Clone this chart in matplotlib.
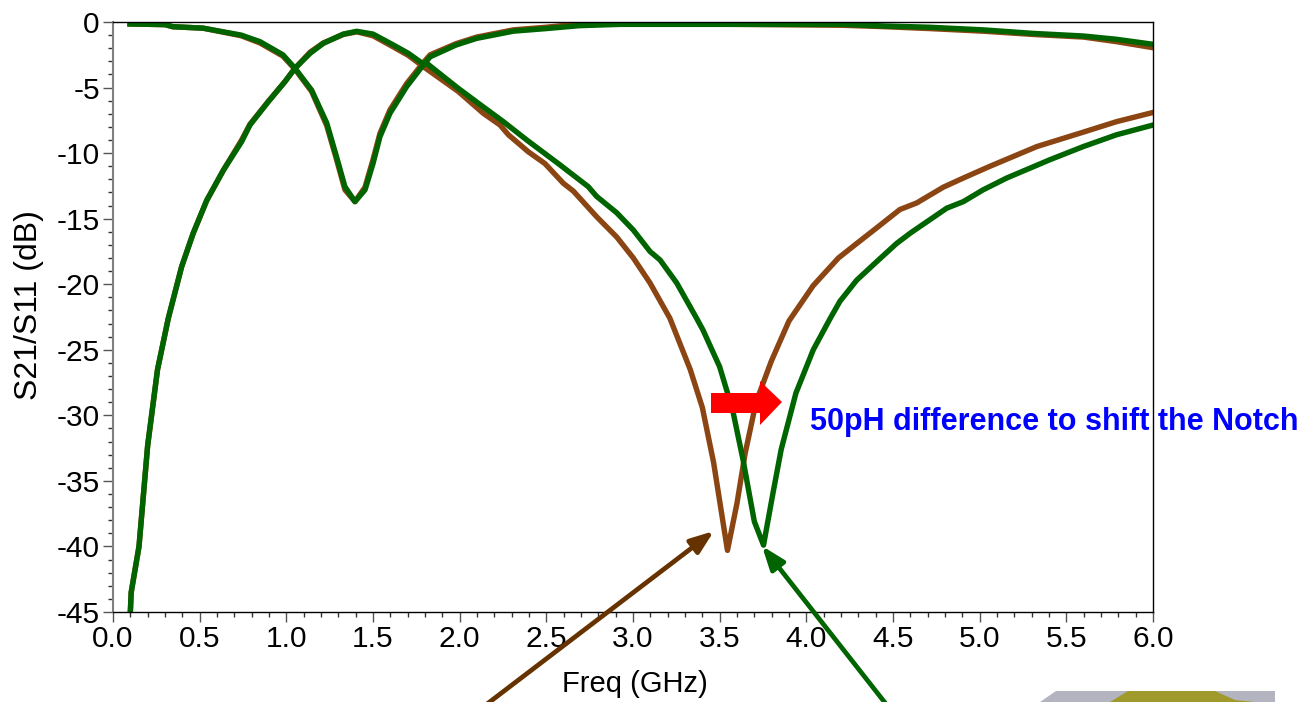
import matplotlib
matplotlib.use('Agg')
import matplotlib.pyplot as plt
from matplotlib.patches import Polygon
from matplotlib.ticker import MultipleLocator

plt.rcParams['font.family'] = ['Liberation Sans', 'DejaVu Sans']
plt.rcParams['axes.unicode_minus'] = False

#S11 with notch at 3.75 GHz (green)
freq_g = [0.1, 0.105, 0.15, 0.2, 0.257, 0.319, 0.396, 0.463, 0.541, 0.637, 0.742, 0.79, 0.896, 0.992,
          1.05, 1.137, 1.213, 1.329, 1.406, 1.5, 1.617, 1.704, 1.79, 1.81, 1.992, 2.108, 2.252, 2.387,
          2.579, 2.742, 2.79, 2.906, 3.002, 3.098, 3.156, 3.252, 3.367, 3.404, 3.5, 3.575, 3.635,
          3.7, 3.753, 3.808, 3.855, 3.94, 4.04, 4.138, 4.194, 4.29, 4.396, 4.52, 4.6, 4.81, 4.906,
          5.02, 5.156, 5.406, 5.598, 5.79, 6.0]
s11_g = [-45, -43.5, -40, -32.3, -26.5, -22.6, -18.66, -16.1, -13.6, -11.3, -9.13, -7.86, -6.08, -4.55,
         -3.53, -2.39, -1.63, -0.92, -0.71, -0.92, -1.75, -2.39, -3.2, -3.15, -5.06, -6.2, -7.6, -9.0,
         -10.9, -12.56, -13.3, -14.55, -15.87, -17.5, -18.15, -19.9, -22.6, -23.5, -26.3, -29.6, -33.4,
         -38.1, -39.9, -35.9, -32.6, -28.3, -25, -22.6, -21.3, -19.7, -18.4, -16.9, -16.1, -14.2, -13.7,
         -12.8, -11.9, -10.5, -9.5, -8.6, -7.86]

#S11 with notch at 3.55 GHz (brown)
freq_b = [0.1, 0.105, 0.15, 0.2, 0.257, 0.319, 0.396, 0.463, 0.541, 0.637, 0.742, 0.79, 0.896, 0.992,
          1.05, 1.137, 1.213, 1.329, 1.406, 1.5, 1.617, 1.704, 1.79, 1.992, 2.136, 2.233, 2.281, 2.396,
          2.492, 2.598, 2.656, 2.79, 2.906, 3.002, 3.098, 3.213, 3.33, 3.4, 3.465, 3.545, 3.6, 3.647,
          3.71, 3.797, 3.85, 3.9, 4.04, 4.185, 4.29, 4.406, 4.54, 4.637, 4.79, 4.906, 5.06, 5.33,
          5.598, 5.79, 6.0]
s11_b = [-45, -43.5, -40, -32.3, -26.5, -22.6, -18.66, -16.1, -13.6, -11.3, -9.0, -7.8, -6.05, -4.55,
         -3.53, -2.3, -1.6, -0.95, -0.75, -1.05, -1.9, -2.55, -3.4, -5.3, -6.96, -7.86, -8.6, -9.9,
         -10.8, -12.3, -12.9, -14.85, -16.4, -18.0, -19.9, -22.6, -26.5, -29.4, -33.6, -40.3, -36.7,
         -32.9, -29, -25.9, -24.3, -22.8, -20.1, -18, -16.9, -15.7, -14.3, -13.8, -12.6, -11.9, -11,
         -9.5, -8.4, -7.6, -6.9]

#S21 (green and brown)
freq_tg = [0.098, 0.3, 0.346, 0.52, 0.74, 0.848, 0.98, 1.05, 1.146, 1.233, 1.29, 1.338, 1.396, 1.454,
           1.5, 1.54, 1.598, 1.694, 1.79, 1.83, 1.98, 2.098, 2.31, 2.5, 2.69, 2.925, 4.21, 4.44, 4.71,
           5.02, 5.31, 5.6, 5.79, 6.0]
s21_g = [-0.15, -0.2, -0.36, -0.47, -1, -1.5, -2.5, -3.53, -5.2, -7.7, -10.3, -12.56, -13.7, -12.8,
         -10.8, -8.75, -6.96, -4.93, -3.28, -2.65, -1.75, -1.25, -0.7, -0.5, -0.28, -0.18, -0.18, -0.3,
         -0.4, -0.6, -0.87, -1.07, -1.32, -1.7]
freq_tb = [0.098, 0.3, 0.346, 0.52, 0.74, 0.848, 0.98, 1.05, 1.146, 1.233, 1.29, 1.338, 1.396, 1.454,
           1.5, 1.54, 1.598, 1.694, 1.79, 1.83, 1.98, 2.098, 2.31, 2.5, 2.69, 2.925, 4.21, 4.44, 4.71,
           5.02, 5.31, 5.6, 5.79, 6.0]
s21_b = [-0.15, -0.2, -0.36, -0.47, -1.05, -1.6, -2.6, -3.6, -5.3, -7.9, -10.5, -12.8, -13.7, -12.6,
         -10.5, -8.5, -6.7, -4.7, -3.1, -2.5, -1.65, -1.15, -0.6, -0.4, -0.15, -0.1, -0.25, -0.35,
         -0.5, -0.7, -0.95, -1.15, -1.5, -1.96]

brown = '#8B4513'
green = '#006400'

W, H = 1307, 702
fig = plt.figure(figsize=(W / 100, H / 100), dpi=100)
ax = fig.add_axes([113 / W, 1 - 612 / H, 1040 / W, 590 / H])

ax.plot(freq_b, s11_b, color=brown, lw=3.9, solid_joinstyle='round')
ax.plot(freq_tb, s21_b, color=brown, lw=3.9, solid_joinstyle='round')
ax.plot(freq_g, s11_g, color=green, lw=3.9, solid_joinstyle='round')
ax.plot(freq_tg, s21_g, color=green, lw=3.9, solid_joinstyle='round')

ax.set_xlim(0, 6)
ax.set_ylim(-45, 0)
ax.xaxis.set_major_locator(MultipleLocator(0.5))
ax.xaxis.set_minor_locator(MultipleLocator(0.1))
ax.yaxis.set_major_locator(MultipleLocator(5))
ax.yaxis.set_minor_locator(MultipleLocator(1))
ax.xaxis.set_major_formatter('{x:.1f}')
ax.tick_params(which='major', length=7.5, width=1, color='#555555', labelsize=21.5, pad=2)
ax.tick_params(which='minor', length=3.5, width=1, color='#333333')
for name in ax.spines:
    ax.spines[name].set_linewidth(1)
ax.spines['left'].set_color('#808080')
ax.spines['left'].set_linewidth(1.5)

fig.text(635 / W, 1 - 684 / H, 'Freq (GHz)', fontsize=21, ha='center', va='center')
fig.text(29 / W, 1 - 305 / H, 'S21/S11 (dB)', fontsize=23, rotation=90, ha='center', va='center')
fig.text(810 / W, 1 - 422 / H, '50pH difference to shift the Notch', fontsize=22, fontweight='bold',
         color='#0000FF', ha='left', va='center')

#Annotation arrows, placed in figure pixels
def fig_pt(px, py):
    return (px / W, 1 - py / H)

fig.add_artist(Polygon([fig_pt(*p) for p in [(711, 393), (760, 393), (760, 381), (782, 402),
                                             (760, 425), (760, 413), (711, 413)]],
                       closed=True, color='#FF0000', lw=0, transform=fig.transFigure, zorder=5))
for tip, tail, col in [((714, 531), (487, 704), '#663300'), ((762, 546), (886, 704), green)]:
    ax.annotate('', xy=fig_pt(*tip), xytext=fig_pt(*tail), xycoords='figure fraction',
                textcoords='figure fraction', annotation_clip=False,
                arrowprops=dict(arrowstyle='-|>,head_length=0.7,head_width=0.26', mutation_scale=20,
                                color=col, lw=3.4, shrinkA=0, shrinkB=0))

#Corner of the photo cut off at the bottom of the slide
fig.add_artist(Polygon([fig_pt(*p) for p in [(1040, 702), (1056, 691), (1275, 691), (1275, 702)]],
                       closed=True, color='#B4B4C0', lw=0, transform=fig.transFigure))
fig.add_artist(Polygon([fig_pt(*p) for p in [(1110, 702), (1128, 691), (1215, 691), (1235, 700), (1255, 702)]],
                       closed=True, color='#A09A2C', lw=0, transform=fig.transFigure))

fig.savefig('out.png', dpi=100)
